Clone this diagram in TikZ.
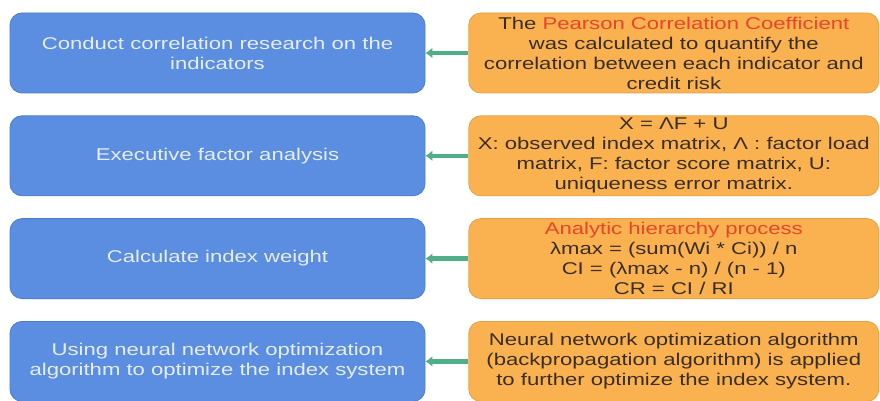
\documentclass[tikz,border=0pt]{standalone}
\usepackage{fontspec}
\setmainfont{Liberation Sans}[FakeStretch=1.3]
\usepackage{tikz}
\usetikzlibrary{arrows.meta}
\usetikzlibrary{positioning}
\definecolor{taskblue}{HTML}{5B8EE0}
\definecolor{taskborder}{HTML}{4C7ED0}
\definecolor{tasktext}{HTML}{E6EDF8}
\definecolor{methodorange}{HTML}{F9B24F}
\definecolor{methodborder}{HTML}{E9A043}
\definecolor{methodtext}{HTML}{3A2E22}
\definecolor{keyred}{HTML}{E8462C}
\definecolor{linkgreen}{HTML}{4FAF88}
\tikzset{
    task/.style={
           rectangle,
           rounded corners=12pt,
           draw=taskborder, fill=taskblue, thick,
           minimum width=415pt,
           minimum height=80pt,
           inner sep=2pt,
           text=tasktext,
           align=center,
           font=\fontsize{17pt}{20pt}\selectfont,
           },
    method/.style={
           rectangle,
           rounded corners=12pt,
           draw=methodborder, fill=methodorange, thick,
           minimum width=410pt,
           minimum height=80pt,
           inner sep=2pt,
           text=methodtext,
           align=center,
           font=\fontsize{17pt}{20pt}\selectfont,
           },
    link/.style={
           draw=linkgreen,
           line width=4.5pt,
           -{Latex[length=7pt,width=11pt]},
           },
}

\begin{document}
\begin{tikzpicture}
      \useasboundingbox (0,0) rectangle (880pt,-401pt);
      % steps on the left
      \node[task] (b_1) at (217.5pt,-53pt) {Conduct correlation research on the\\indicators};
      \node[task] (b_2) [below=22pt of b_1] {Executive factor analysis};
      \node[task] (b_3) [below=22pt of b_2] {Calculate index weight};
      \node[task] (b_4) [below=22pt of b_3] {Using neural network optimization\\algorithm to optimize the index system};
      % methods on the right
      \node[method] (m_1) [right=43pt of b_1] {The \textcolor{keyred}{Pearson Correlation Coefficient}\\was calculated to quantify the\\correlation between each indicator and\\credit risk};
      \node[method] (m_2) [right=43pt of b_2] {X = ΛF + U\\X: observed index matrix, Λ : factor load\\matrix, F: factor score matrix, U:\\uniqueness error matrix.};
      \node[method] (m_3) [right=43pt of b_3] {\textcolor{keyred}{Analytic hierarchy process}\\λmax = (sum(Wi * Ci)) / n\\CI = (λmax - n) / (n - 1)\\CR = CI / RI};
      \node[method] (m_4) [right=43pt of b_4] {Neural network optimization algorithm\\(backpropagation algorithm) is applied\\to further optimize the index system.};
      % each method feeds its step
      \draw[link] (m_1) -- (b_1);
      \draw[link] (m_2) -- (b_2);
      \draw[link] (m_3) -- (b_3);
      \draw[link] (m_4) -- (b_4);
\end{tikzpicture}
\end{document}
